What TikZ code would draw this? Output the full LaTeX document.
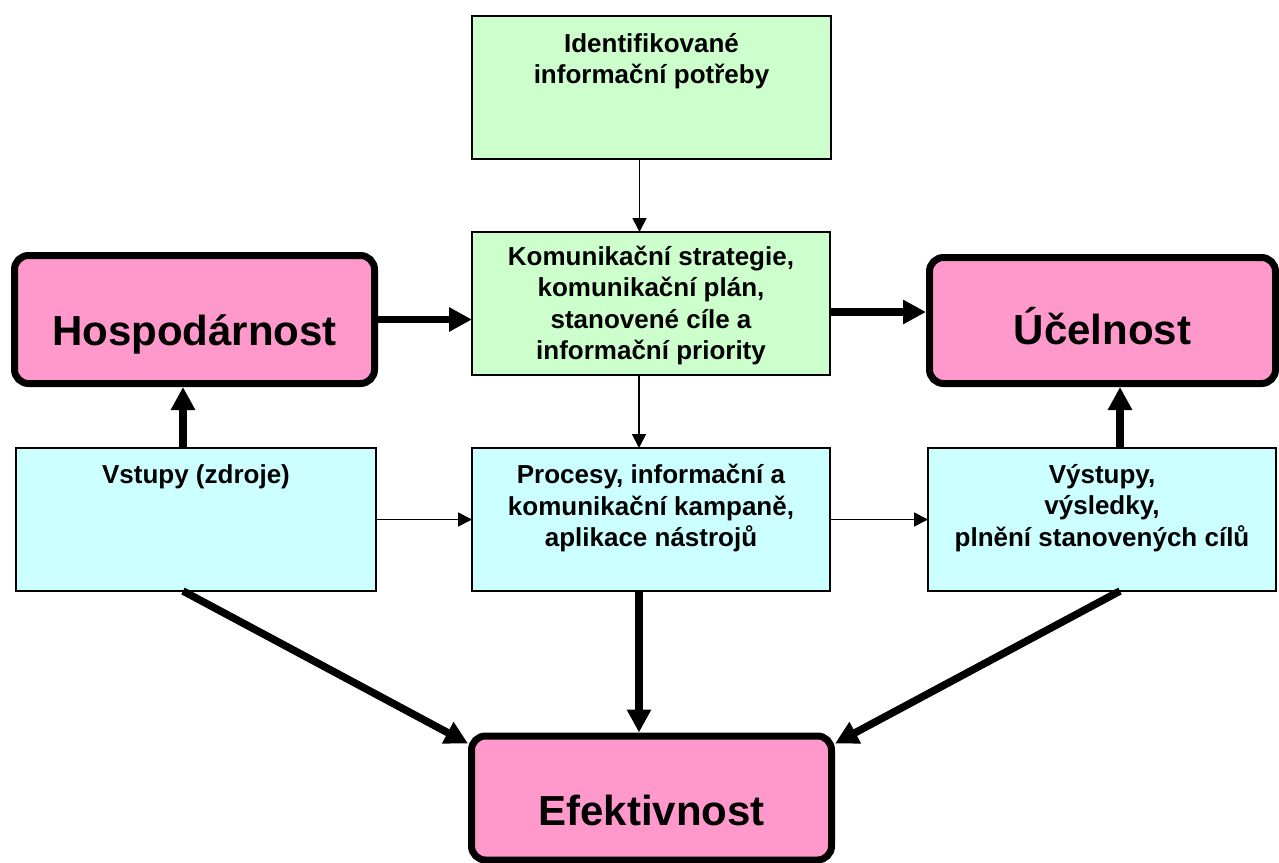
\documentclass[tikz,border=0pt]{standalone}
\usepackage{fontspec}
\setmainfont{Liberation Sans}
\usetikzlibrary{arrows.meta,calc}
\definecolor{boxgreen}{HTML}{CCFFCC}
\definecolor{boxcyan}{HTML}{CCFFFF}
\definecolor{boxpink}{HTML}{FF99CC}
\tikzset{
  thinbox/.style={draw=black, line width=1.8pt, inner sep=0pt, outer sep=0pt},
  greenbox/.style={thinbox, fill=boxgreen},
  cyanbox/.style={thinbox, fill=boxcyan},
  pinkbox/.style={draw=black, fill=boxpink, line width=7pt, rounded corners=14pt, inner sep=0pt, outer sep=3.5pt},
  txt/.style={align=center, inner sep=0pt, font=\fontsize{26}{31.5}\selectfont\bfseries},
  bigtxt/.style={inner sep=0pt, font=\fontsize{42}{50}\selectfont\bfseries},
  thinarrow/.style={line width=1.8pt, -{Triangle[length=14pt,width=14pt]}},
  thickarrow/.style={line width=7.5pt, -{Triangle[length=23pt,width=23pt]}},
}
\begin{document}
\begin{tikzpicture}[x=1pt,y=-1pt]
\useasboundingbox (0,0) rectangle (1279,862);
% boxes
\node[greenbox, minimum width=359pt, minimum height=143pt] (top) at (651.5,87.5) {};
\node[greenbox, minimum width=358pt, minimum height=143pt] (mid) at (651,303.5) {};
\node[cyanbox, minimum width=360pt, minimum height=143pt] (vstupy) at (196,519.5) {};
\node[cyanbox, minimum width=358pt, minimum height=143pt] (procesy) at (651,519.5) {};
\node[cyanbox, minimum width=348pt, minimum height=143pt] (vystupy) at (1102,519.5) {};
\node[pinkbox, minimum width=360pt, minimum height=128pt] (hosp) at (194.5,319.5) {};
\node[pinkbox, minimum width=346pt, minimum height=126pt] (ucel) at (1102.5,320.5) {};
\node[pinkbox, minimum width=360pt, minimum height=124pt] (efekt) at (651.5,798) {};
% texts
\node[txt, anchor=north] (topT) at ([yshift=-17pt]top.north) {Identifikované\\informační potřeby};
\node[txt] (midT) at ([yshift=-2pt]mid.center) {Komunikační strategie,\\komunikační plán,\\stanovené cíle a\\informační priority};
\node[txt, anchor=north] (vstupyT) at ([yshift=-16pt]vstupy.north) {Vstupy (zdroje)};
\node[txt, anchor=north] (procesyT) at ([yshift=-16pt]procesy.north) {Procesy, informační a\\komunikační kampaně,\\aplikace nástrojů};
\node[txt, anchor=north] (vystupyT) at ([yshift=-16pt]vystupy.north) {Výstupy,\\výsledky,\\plnění stanovených cílů};
\node[bigtxt, anchor=base] (hospT) at (194.5,345) {Hospodárnost};
\node[bigtxt, anchor=base] (ucelT) at (1102.5,344) {Účelnost};
\node[bigtxt, anchor=base] (efektT) at (651.5,825) {Efektivnost};
% thin connectors
\draw[thinarrow] ([xshift=-12pt]top.south) -- ([xshift=-12pt]top.south |- mid.north);
\draw[thinarrow] ([xshift=-12pt]mid.south) -- ([xshift=-12pt]mid.south |- procesy.north);
\draw[thinarrow] (vstupy.east) -- (procesy.west);
\draw[thinarrow] (procesy.east) -- (procesy.east -| vystupy.west);
% thick connectors
\draw[thickarrow] (hosp.east) -- (hosp.east -| mid.west);
\draw[thickarrow] ([yshift=-8.5pt]mid.east) -- ([yshift=-8.5pt]mid.east -| ucel.west);
\draw[thickarrow] ([xshift=-13pt]vstupy.north) -- ([xshift=-13pt]vstupy.north |- hosp.south);
\draw[thickarrow] ([xshift=18pt]vystupy.north) -- ([xshift=18pt]vystupy.north |- ucel.south);
\draw[thickarrow] ([xshift=-12pt]procesy.south) -- ([xshift=-12pt]procesy.south |- efekt.north);
\draw[thickarrow] ([xshift=-13pt]vstupy.south) -- ([yshift=-11pt]efekt.north west);
\draw[thickarrow] ([xshift=18pt]vystupy.south) -- ([yshift=-11pt]efekt.north east);
\end{tikzpicture}
\end{document}
